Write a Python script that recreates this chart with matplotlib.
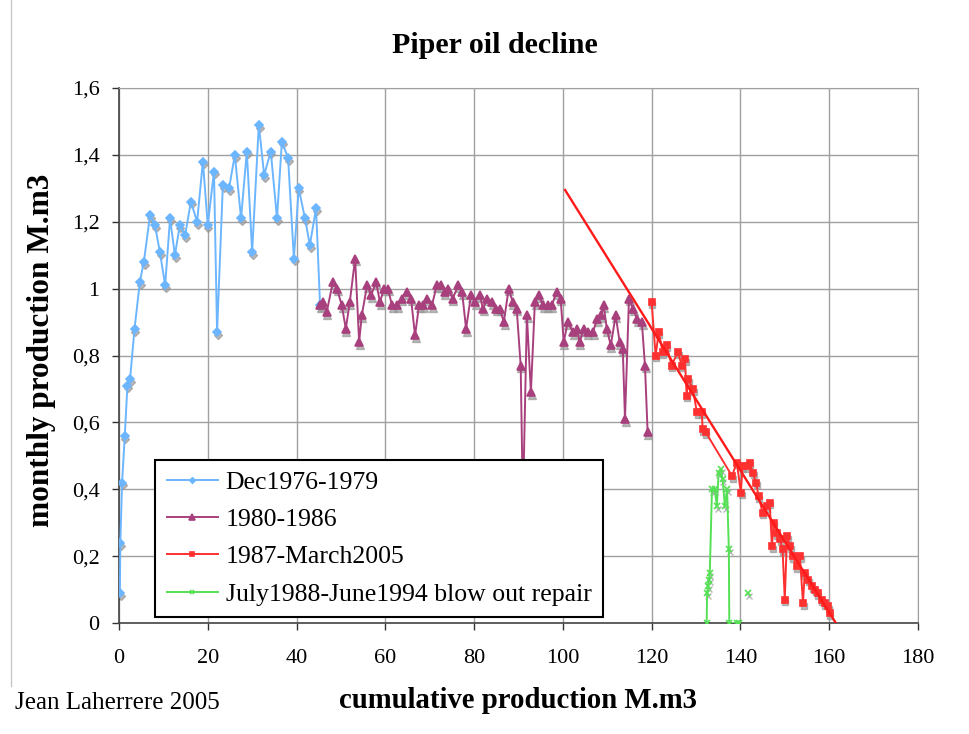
import matplotlib
matplotlib.use("Agg")
import matplotlib.pyplot as plt
import matplotlib.transforms as mtransforms
from matplotlib.lines import Line2D
from matplotlib.ticker import FuncFormatter
import numpy as np

# datos (x = produccion acumulada M.m3, y = produccion mensual M.m3)
dec76_x = [0.2, 0.3, 0.7, 1.3, 1.9, 2.5, 3.5, 4.7, 5.6, 7.0, 8.1, 9.2, 10.4, 11.5,
           12.6, 13.7, 14.9, 16.2, 17.6, 18.9, 20.0, 21.4, 22.1, 23.4, 24.8, 26.1,
           27.5, 28.8, 30.0, 31.5, 32.7, 34.2, 35.6, 36.7, 38.1, 39.4, 40.5, 41.9,
           43.0, 44.4, 45.3]
dec76_y = [0.09, 0.24, 0.42, 0.56, 0.71, 0.73, 0.88, 1.02, 1.08, 1.22, 1.19, 1.11,
           1.01, 1.21, 1.10, 1.19, 1.16, 1.26, 1.20, 1.38, 1.19, 1.35, 0.87, 1.31,
           1.30, 1.40, 1.21, 1.41, 1.11, 1.49, 1.34, 1.41, 1.21, 1.44, 1.39, 1.09,
           1.30, 1.21, 1.13, 1.24, 0.95]

y80_x = [45.3, 45.9, 46.8, 48.2, 49.1, 50.2, 51.1, 52.0, 53.2, 54.1, 54.7, 55.9,
         56.8, 57.9, 58.8, 59.7, 60.6, 61.5, 62.6, 63.7, 64.9, 65.8, 66.7, 67.6,
         68.5, 69.4, 70.5, 71.6, 72.5, 73.4, 74.1, 75.2, 76.4, 77.3, 78.2, 79.3,
         80.2, 81.3, 82.0, 82.9, 84.0, 84.9, 85.8, 86.7, 87.8, 88.7, 89.6, 90.5,
         91.0, 91.9, 92.8, 93.7, 94.6, 95.5, 96.6, 97.5, 98.6, 99.5, 100.2, 101.1,
         102.3, 103.2, 103.8, 104.7, 105.6, 106.8, 107.7, 108.6, 109.2, 109.9,
         110.8, 111.9, 112.8, 113.5, 114.0, 114.9, 115.8, 116.7, 117.8, 118.5, 119.1]
y80_y = [0.95, 0.96, 0.93, 1.02, 1.00, 0.95, 0.88, 0.96, 1.09, 0.84, 0.92, 1.01,
         0.98, 1.02, 0.96, 1.00, 1.00, 0.95, 0.95, 0.97, 0.99, 0.97, 0.86, 0.95,
         0.95, 0.97, 0.95, 1.01, 1.01, 0.99, 1.00, 0.97, 1.01, 0.99, 0.88, 0.98,
         0.96, 0.98, 0.94, 0.97, 0.96, 0.94, 0.94, 0.90, 1.00, 0.96, 0.94, 0.77,
         0.35, 0.92, 0.69, 0.96, 0.98, 0.95, 0.95, 0.95, 0.99, 0.97, 0.84, 0.90,
         0.87, 0.88, 0.84, 0.88, 0.87, 0.87, 0.91, 0.92, 0.95, 0.88, 0.83, 0.92,
         0.84, 0.82, 0.61, 0.97, 0.94, 0.91, 0.90, 0.77, 0.57]

y87_x = [120.0, 120.9, 121.6, 122.5, 123.4, 124.5, 125.9, 126.8, 127.5, 127.9,
         128.2, 129.3, 130.2, 131.3, 131.5, 132.2, 138.1, 139.2, 140.1, 140.5,
         141.4, 142.1, 142.8, 143.5, 144.1, 145.0, 145.9, 146.6, 147.1, 147.5,
         148.2, 148.9, 149.5, 150.0, 150.5, 151.2, 151.8, 152.7, 153.4, 154.1,
         154.5, 155.2, 156.1, 156.8, 157.4, 158.3, 159.0, 159.7, 160.1]
y87_y = [0.96, 0.80, 0.87, 0.81, 0.83, 0.77, 0.81, 0.77, 0.79, 0.68, 0.73, 0.70,
         0.63, 0.63, 0.58, 0.57, 0.44, 0.48, 0.39, 0.47, 0.47, 0.48, 0.45, 0.42,
         0.38, 0.33, 0.35, 0.36, 0.23, 0.30, 0.27, 0.25, 0.22, 0.07, 0.26, 0.23,
         0.20, 0.17, 0.20, 0.06, 0.15, 0.13, 0.11, 0.10, 0.09, 0.07, 0.06, 0.05, 0.03]

jul88_x = [132.4, 132.5, 132.7, 132.9, 133.1, 133.6, 134.2, 134.7, 135.1, 135.6,
           136.0, 136.5, 137.0, 137.4, 137.5, 139.3, 139.7, np.nan, 141.7]
jul88_y = [0.0, 0.09, 0.11, 0.13, 0.15, 0.40, 0.40, 0.35, 0.45, 0.46,
           0.43, 0.35, 0.40, 0.22, 0.0, 0.0, 0.0, np.nan, 0.09]

# recta de declinacion
trend_x = [100.5, 161.5]
trend_y = [1.295, 0.0]

x_ticks = [0, 20, 40, 60, 80, 100, 120, 140, 160, 180]
y_ticks = [0, 0.2, 0.4, 0.6, 0.8, 1.0, 1.2, 1.4, 1.6]

plt.rcParams['font.family'] = ['Liberation Serif', 'DejaVu Serif']

fig = plt.figure(figsize=(9.69, 7.34), dpi=100)
ax = fig.add_axes([0.1228, 0.1512, 0.8245, 0.7289])

# borde izquierdo del area del grafico (Excel)
fig.add_artist(Line2D([0.011, 0.011], [0.065, 1.0], transform=fig.transFigure,
                      color='#c8c8c8', linewidth=1.0))

# sombra gris debajo de los marcadores (como en Excel)
sombra = mtransforms.offset_copy(ax.transData, fig=fig, x=0.5, y=-2.0, units='points')

series = [
    (dec76_x, dec76_y, '#6cb6ff', 'D', 4.0, 'Dec1976-1979'),
    (y80_x, y80_y, '#a8407e', '^', 5.5, '1980-1986'),
    (y87_x, y87_y, '#ff3030', 's', 4.5, '1987-March2005'),
    (jul88_x, jul88_y, '#55e055', 'x', 5.0, 'July1988-June1994 blow out repair'),
]

for xs, ys, col, mk, ms, lab in series:
    ax.plot(xs, ys, linestyle='none', marker=mk, markersize=ms, color='#9a9a9a',
            alpha=0.7, transform=sombra, zorder=2)

for xs, ys, col, mk, ms, lab in series:
    ax.plot(xs, ys, color=col, marker=mk, markersize=ms, linewidth=1.4,
            markeredgewidth=1.2, label=lab, zorder=3)

ax.plot(trend_x, trend_y, color='#ff1a1a', linewidth=1.7, zorder=4)

ax.set_xlim(0, 180)
ax.set_ylim(0, 1.6)
ax.set_xticks(x_ticks)
ax.set_yticks(y_ticks)
ax.yaxis.set_major_formatter(FuncFormatter(lambda v, p: '0' if v == 0 else ('1' if abs(v - 1) < 1e-9 else f'{v:.1f}'.replace('.', ','))))
ax.tick_params(axis='both', labelsize=16, length=5, width=1, direction='out', colors='#333333')
ax.tick_params(axis='x', pad=14)
ax.tick_params(axis='y', pad=9)
for lbl in ax.get_xticklabels() + ax.get_yticklabels():
    lbl.set_color('black')

ax.grid(True, color='#a0a0a0', linewidth=1.0)
ax.set_axisbelow(True)
for s in ['top', 'right']:
    ax.spines[s].set_color('#a0a0a0')
for s in ['left', 'bottom']:
    ax.spines[s].set_color('#444444')
    ax.spines[s].set_linewidth(1.2)

leg = ax.legend(loc='lower left', bbox_to_anchor=(0.045, 0.011), borderaxespad=0,
                fontsize=18.5, fancybox=False, edgecolor='black', framealpha=1,
                handlelength=2.0, handletextpad=0.3, labelspacing=0.55,
                borderpad=0.45, markerscale=0.7)
leg.get_frame().set_linewidth(1.5)
leg.set_zorder(10)

fig.text(0.511, 0.938, 'Piper oil decline', ha='center', va='center',
         fontsize=21.5, fontweight='bold')
fig.text(0.043, 0.523, 'monthly production M.m3', ha='center', va='center',
         rotation=90, fontsize=22.5, fontweight='bold')
fig.text(0.535, 0.046, 'cumulative production M.m3', ha='center', va='center',
         fontsize=20.7, fontweight='bold')
fig.text(0.0155, 0.042, 'Jean Laherrere 2005', ha='left', va='center', fontsize=18)

fig.savefig('out.png', dpi=100)
